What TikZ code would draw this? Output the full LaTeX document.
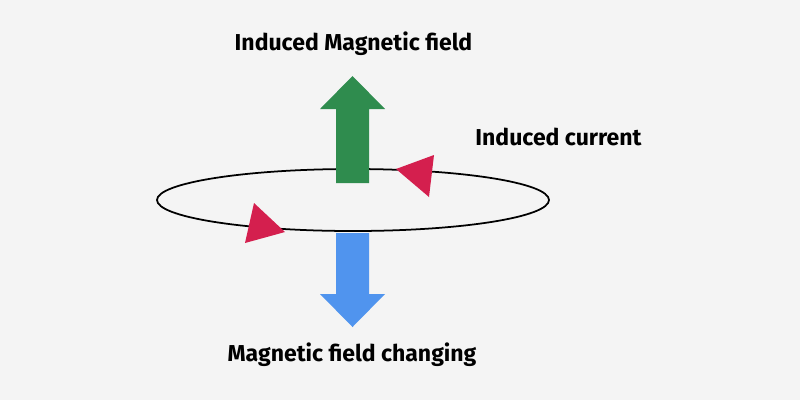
\documentclass[tikz,border=0pt]{standalone}
\usepackage{fontspec}
\setmainfont{Fira Sans}
\definecolor{bgcol}{HTML}{F4F4F4}
\definecolor{upgreen}{HTML}{2F8C4E}
\definecolor{downblue}{HTML}{5094EE}
\definecolor{currred}{HTML}{D41F4E}
\tikzset{
    label text/.style={font=\bfseries\fontsize{13.1}{15}\selectfont, text=black, inner sep=0pt},
}
\begin{document}
\begin{tikzpicture}[x=0.02cm, y=-0.02cm]
        \fill[bgcol] (0,0) rectangle (800,400);
        \useasboundingbox (0,0) rectangle (800,400);
        %spira
        \draw[line width=1pt] (353,200) ellipse (196 and 31);
        %campo indotto
        \fill[upgreen] (336,183) -- (336,109) -- (320,109) -- (352.5,76)
            -- (385,109) -- (369,109) -- (369,183) -- cycle;
        %campo che cambia
        \fill[downblue] (336,233) -- (336,294) -- (320,294) -- (352.5,327)
            -- (385,294) -- (369,294) -- (369,233) -- cycle;
        %verso della corrente
        \fill[currred] (396,169) -- (434,155) -- (429,197) -- cycle;
        \fill[currred] (254,203) -- (285,232) -- (245,243) -- cycle;
        %etichette
        \node[label text] (induced) at (353.5,44) {Induced Magnetic field};
        \node[label text] (current) at (558.5,137) {Induced current};
        \node[label text] (changing) at (352,355) {Magnetic field changing};
    \end{tikzpicture}
\end{document}
